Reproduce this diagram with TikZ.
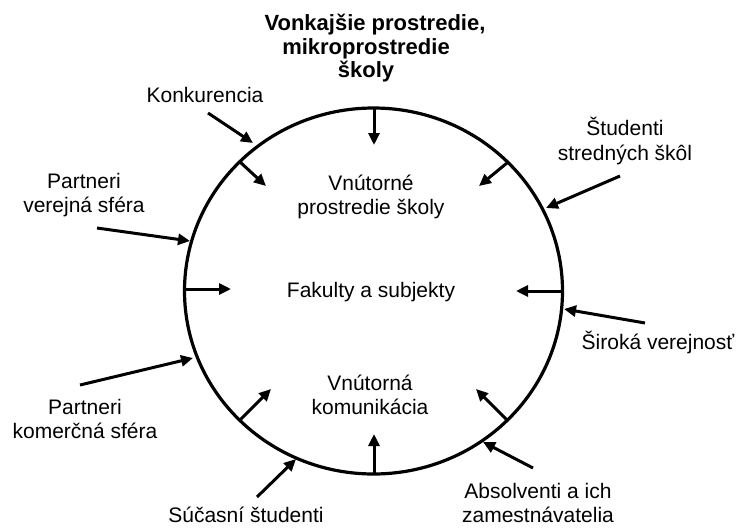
\documentclass[tikz,border=0pt]{standalone}
\usepackage{fontspec}
\setmainfont{Liberation Sans}
\usetikzlibrary{arrows.meta}
\begin{document}
\begin{tikzpicture}[x=1pt,y=-1pt,
  lbl/.style={font=\fontsize{21}{24.5}\selectfont, align=center, inner sep=0pt},
  ttl/.style={font=\bfseries\fontsize{22}{24}\selectfont, inner sep=0pt},
  arr/.style={line width=3pt, -{Triangle[length=12pt,width=11pt]}},
  ring/.style={line width=3.2pt}]
\useasboundingbox (0,0) rectangle (736,528);

% school boundary
\draw[ring] (373.5,291) ellipse [x radius=189pt, y radius=183pt];

% heading
\node[ttl] (t1) at (375,25) {Vonkajšie prostredie,};
\node[ttl] (t2) at (366,49) {mikroprostredie};
\node[ttl] (t3) at (366,72) {školy};

% outer actors
\node[lbl] (konk) at (205,95) {Konkurencia};
\node[lbl] (stud) at (625,141) {Študenti\\stredných škôl};
\node[lbl] (verejna) at (84,195) {Partneri\\verejná sféra};
\node[lbl] (siroka) at (658,342) {Široká verejnosť};
\node[lbl] (komercna) at (85,419) {Partneri\\komerčná sféra};
\node[lbl] (sucasni) at (246,515) {Súčasní študenti};
\node[lbl] (absol) at (538,503) {Absolventi a ich\\zamestnávatelia};

% inner parts
\node[lbl] (inner1) at (371,197) {Vnútorné\\prostredie školy};
\node[lbl] (fak) at (371,292) {Fakulty a subjekty};
\node[lbl] (inner2) at (370,395) {Vnútorná\\komunikácia};

% arrow end points
\coordinate (a1s) at (374,108);   \coordinate (a1e) at (374,145);
\coordinate (a2s) at (208,113);   \coordinate (a2e) at (253,143);
\coordinate (a3s) at (240,162);   \coordinate (a3e) at (266,186);
\coordinate (a4s) at (620,176);   \coordinate (a4e) at (546,208);
\coordinate (a5s) at (507,163);   \coordinate (a5e) at (479,186);
\coordinate (a6s) at (97,228);    \coordinate (a6e) at (190,241);
\coordinate (a7s) at (184,289);   \coordinate (a7e) at (231,289);
\coordinate (a8s) at (562,291);   \coordinate (a8e) at (516,291);
\coordinate (a9s) at (645,323);   \coordinate (a9e) at (564,309);
\coordinate (a10s) at (80,385);   \coordinate (a10e) at (193,358);
\coordinate (a11s) at (240,420);  \coordinate (a11e) at (271,389);
\coordinate (a12s) at (257,497);  \coordinate (a12e) at (296,459);
\coordinate (a13s) at (374,474);  \coordinate (a13e) at (374,434);
\coordinate (a14s) at (533,468);  \coordinate (a14e) at (483,442);
\coordinate (a15s) at (507,420);  \coordinate (a15e) at (476,389);

\foreach \i in {1,...,15} \draw[arr] (a\i s) -- (a\i e);
\end{tikzpicture}
\end{document}
